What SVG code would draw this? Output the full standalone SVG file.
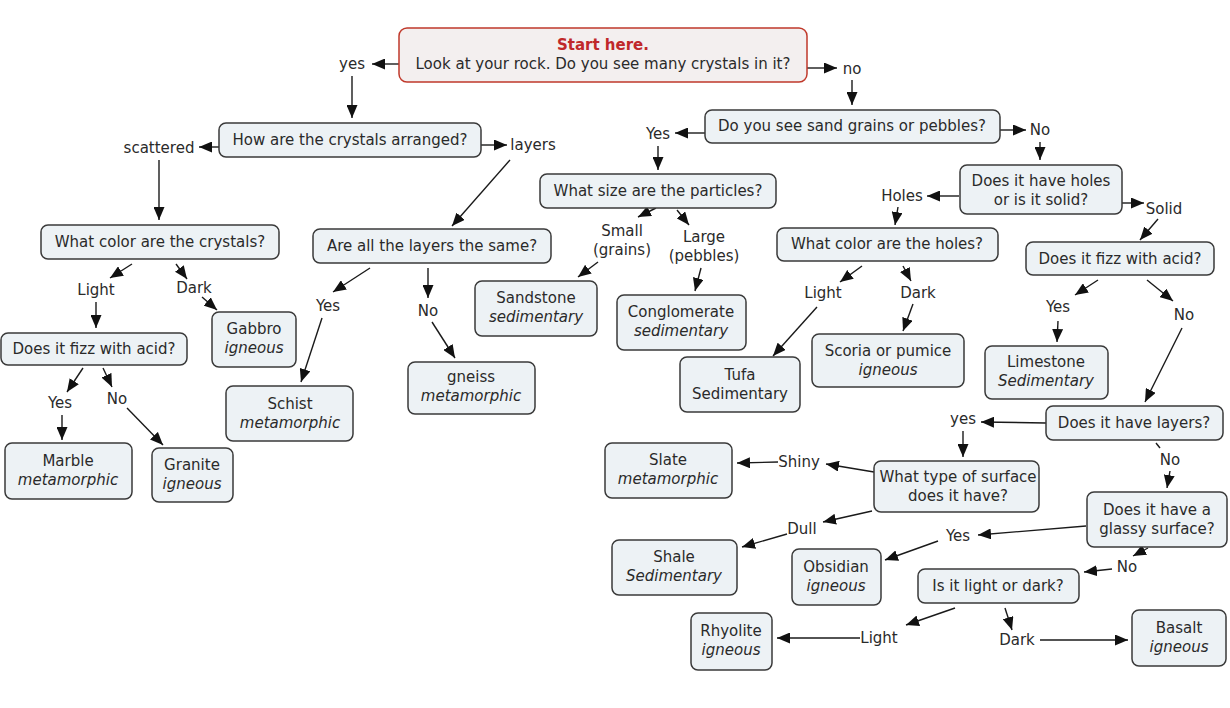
<svg xmlns="http://www.w3.org/2000/svg" width="1230" height="708" viewBox="0 0 1230 708">
<style>
.n rect{fill:#edf2f5;stroke:#3a3a3a;stroke-width:1.5}
.s rect{fill:#f3efef;stroke:#c0392b;stroke-width:1.5}
text{font-family:"DejaVu Sans","Liberation Sans",sans-serif;font-size:15px;fill:#2a2a2a;text-anchor:middle}
.i{font-style:italic}
.r{font-weight:bold;fill:#c0282a}
#connectors path{fill:none;stroke:#1a1a1a;stroke-width:1.4;marker-end:url(#ah)}
#connectors path.nt{marker-end:none}
</style>
<defs>
<marker id="ah" markerUnits="userSpaceOnUse" markerWidth="14" markerHeight="11" refX="13" refY="5.5" orient="auto">
<path d="M0,0 L13,5.5 L0,11 z" fill="#111"/>
</marker>
</defs>
<rect width="1230" height="708" fill="#fff"/>
<g id="connectors">
<path d="M399,64 L372,64"/>
<path d="M352,76 L352,118"/>
<path d="M807,68 L837,68"/>
<path d="M852,80 L852,105"/>
<path d="M219,147 L199,147"/>
<path d="M481,145 L507,145"/>
<path d="M159,160 L159,220"/>
<path d="M510,160 L452,226"/>
<path d="M705,133 L675,133"/>
<path d="M1000,130 L1026,130"/>
<path d="M658,146 L658,170"/>
<path d="M1040,142 L1040,160"/>
<path d="M656,208 L638,217"/>
<path d="M677,210 L689,225"/>
<path d="M598,262 L578,277"/>
<path d="M701,268 L695,291"/>
<path d="M132,264 L110,278"/>
<path d="M176,264 L187,279"/>
<path d="M96,302 L96,328"/>
<path d="M202,297 L217,310"/>
<path d="M370,268 L333,292"/>
<path d="M428,268 L428,298"/>
<path d="M322,318 L301,382"/>
<path d="M432,322 L455,358"/>
<path d="M83,368 L67,392"/>
<path d="M103,368 L112,387"/>
<path d="M62,415 L62,440"/>
<path d="M127,408 L163,445"/>
<path d="M959,196 L927,196"/>
<path d="M1122,203 L1144,203"/>
<path d="M898,207 L895,225"/>
<path d="M1158,219 L1140,240"/>
<path d="M862,266 L840,282"/>
<path d="M903,266 L911,281"/>
<path d="M817,307 L773,356"/>
<path d="M913,304 L903,331"/>
<path d="M1098,280 L1075,295"/>
<path d="M1147,280 L1173,301"/>
<path d="M1058,321 L1057,342"/>
<path d="M1182,328 L1145,402"/>
<path d="M1046,423 L981,422"/>
<path d="M963,431 L963,457"/>
<path class="nt" d="M1156,443 L1160,448"/>
<path d="M1170,471 L1167,488"/>
<path d="M874,472 L826,464"/>
<path d="M778,462 L737,463"/>
<path d="M872,511 L823,522"/>
<path d="M787,534 L742,547"/>
<path d="M1086,526 L978,535"/>
<path d="M938,541 L885,560"/>
<path d="M1148,548 L1133,556"/>
<path d="M1112,569 L1084,572"/>
<path d="M955,608 L906,625"/>
<path d="M1005,608 L1012,630"/>
<path d="M860,638 L777,638"/>
<path d="M1040,640 L1128,640"/>
</g>
<g id="labels">
<text x="352" y="69">yes</text>
<text x="852" y="74">no</text>
<text x="159" y="153">scattered</text>
<text x="533" y="150">layers</text>
<text x="658" y="139">Yes</text>
<text x="1040" y="135">No</text>
<text x="902" y="201">Holes</text>
<text x="1164" y="214">Solid</text>
<text x="622" y="236">Small</text>
<text x="622" y="255">(grains)</text>
<text x="704" y="242">Large</text>
<text x="704" y="261">(pebbles)</text>
<text x="96" y="295">Light</text>
<text x="194" y="293">Dark</text>
<text x="328" y="311">Yes</text>
<text x="428" y="316">No</text>
<text x="823" y="298">Light</text>
<text x="918" y="298">Dark</text>
<text x="1058" y="312">Yes</text>
<text x="1184" y="320">No</text>
<text x="60" y="408">Yes</text>
<text x="117" y="404">No</text>
<text x="963" y="424">yes</text>
<text x="1170" y="465">No</text>
<text x="799" y="467">Shiny</text>
<text x="802" y="534">Dull</text>
<text x="958" y="541">Yes</text>
<text x="1127" y="572">No</text>
<text x="879" y="643">Light</text>
<text x="1017" y="645">Dark</text>
</g>
<g id="n-start" class="s"><rect x="399" y="28" width="408" height="54" rx="8"/><text class="r" x="603" y="50">Start here.</text><text x="603" y="69">Look at your rock. Do you see many crystals in it?</text></g>
<g id="n-arranged" class="n"><rect x="219" y="123" width="262" height="34" rx="7"/><text x="350" y="145">How are the crystals arranged?</text></g>
<g id="n-sand" class="n"><rect x="705" y="110" width="295" height="33" rx="7"/><text x="852" y="131">Do you see sand grains or pebbles?</text></g>
<g id="n-size" class="n"><rect x="540" y="174" width="236" height="34" rx="7"/><text x="658" y="196">What size are the particles?</text></g>
<g id="n-holes" class="n"><rect x="960" y="165" width="162" height="49" rx="7"/><text x="1041" y="186">Does it have holes</text><text x="1041" y="205">or is it solid?</text></g>
<g id="n-crystalcolor" class="n"><rect x="41" y="225" width="238" height="34" rx="7"/><text x="160" y="247">What color are the crystals?</text></g>
<g id="n-layerssame" class="n"><rect x="313" y="229" width="238" height="34" rx="7"/><text x="432" y="251">Are all the layers the same?</text></g>
<g id="n-holecolor" class="n"><rect x="777" y="228" width="221" height="33" rx="7"/><text x="887" y="249">What color are the holes?</text></g>
<g id="n-fizz2" class="n"><rect x="1026" y="242" width="188" height="33" rx="7"/><text x="1120" y="264">Does it fizz with acid?</text></g>
<g id="n-fizz1" class="n"><rect x="1" y="333" width="186" height="32" rx="7"/><text x="94" y="354">Does it fizz with acid?</text></g>
<g id="n-gabbro" class="n"><rect x="212" y="312" width="84" height="55" rx="7"/><text x="254" y="334">Gabbro</text><text class="i" x="254" y="353">igneous</text></g>
<g id="n-sandstone" class="n"><rect x="475" y="281" width="122" height="55" rx="7"/><text x="536" y="303">Sandstone</text><text class="i" x="536" y="322">sedimentary</text></g>
<g id="n-conglomerate" class="n"><rect x="617" y="295" width="129" height="55" rx="7"/><text x="681" y="317">Conglomerate</text><text class="i" x="681" y="336">sedimentary</text></g>
<g id="n-tufa" class="n"><rect x="680" y="357" width="120" height="55" rx="7"/><text x="740" y="380">Tufa</text><text x="740" y="399">Sedimentary</text></g>
<g id="n-scoria" class="n"><rect x="812" y="334" width="152" height="53" rx="7"/><text x="888" y="356">Scoria or pumice</text><text class="i" x="888" y="375">igneous</text></g>
<g id="n-limestone" class="n"><rect x="985" y="346" width="123" height="53" rx="7"/><text x="1046" y="367">Limestone</text><text class="i" x="1046" y="386">Sedimentary</text></g>
<g id="n-schist" class="n"><rect x="226" y="386" width="127" height="55" rx="7"/><text x="290" y="409">Schist</text><text class="i" x="290" y="428">metamorphic</text></g>
<g id="n-gneiss" class="n"><rect x="408" y="362" width="127" height="52" rx="7"/><text x="471" y="382">gneiss</text><text class="i" x="471" y="401">metamorphic</text></g>
<g id="n-marble" class="n"><rect x="5" y="443" width="127" height="56" rx="7"/><text x="68" y="466">Marble</text><text class="i" x="68" y="485">metamorphic</text></g>
<g id="n-granite" class="n"><rect x="152" y="448" width="81" height="54" rx="7"/><text x="192" y="470">Granite</text><text class="i" x="192" y="489">igneous</text></g>
<g id="n-haslayers" class="n"><rect x="1046" y="406" width="177" height="34" rx="7"/><text x="1134" y="428">Does it have layers?</text></g>
<g id="n-slate" class="n"><rect x="605" y="443" width="127" height="55" rx="7"/><text x="668" y="465">Slate</text><text class="i" x="668" y="484">metamorphic</text></g>
<g id="n-surface" class="n"><rect x="874" y="461" width="165" height="51" rx="7"/><text x="958" y="482">What type of surface</text><text x="958" y="501">does it have?</text></g>
<g id="n-glassy" class="n"><rect x="1087" y="492" width="140" height="55" rx="7"/><text x="1157" y="515">Does it have a</text><text x="1157" y="534">glassy surface?</text></g>
<g id="n-shale" class="n"><rect x="612" y="540" width="125" height="55" rx="7"/><text x="674" y="562">Shale</text><text class="i" x="674" y="581">Sedimentary</text></g>
<g id="n-obsidian" class="n"><rect x="792" y="549" width="89" height="56" rx="7"/><text x="836" y="572">Obsidian</text><text class="i" x="836" y="591">igneous</text></g>
<g id="n-lightdark" class="n"><rect x="918" y="569" width="161" height="34" rx="7"/><text x="998" y="591">Is it light or dark?</text></g>
<g id="n-rhyolite" class="n"><rect x="691" y="613" width="81" height="57" rx="7"/><text x="731" y="636">Rhyolite</text><text class="i" x="731" y="655">igneous</text></g>
<g id="n-basalt" class="n"><rect x="1132" y="610" width="94" height="56" rx="7"/><text x="1179" y="633">Basalt</text><text class="i" x="1179" y="652">igneous</text></g>
</svg>
